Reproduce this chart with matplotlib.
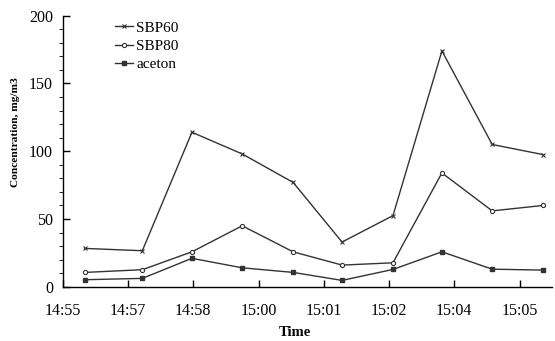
import matplotlib.pyplot as plt
from matplotlib.ticker import MultipleLocator

# sample positions on the time axis (in tick units) and tick labels
sample_pos = [0.34, 1.22, 1.98, 2.75, 3.53, 4.28, 5.06, 5.81, 6.58, 7.36]
tick_labels = ['14:55', '14:57', '14:58', '15:00', '15:01', '15:02', '15:04', '15:05']

sbp60 = [28.3, 26.6, 114, 98, 77, 33, 52.5, 174, 105, 97.5]
sbp80 = [10.6, 12.6, 25.8, 45, 25.8, 16, 17.7, 84, 56, 60]
aceton = [5.2, 6.2, 21, 14, 10.6, 4.7, 12.8, 25.8, 13, 12.3]

plt.rcParams['font.family'] = ['Liberation Serif', 'DejaVu Serif']

fig = plt.figure(figsize=(5.55, 3.41), dpi=100)
ax = fig.add_axes([0.113, 0.159, 0.882, 0.795])

col = '#333333'
ax.plot(sample_pos, sbp60, color=col, lw=1, marker='x', ms=3, mew=0.8, label='SBP60')
ax.plot(sample_pos, sbp80, color=col, lw=1, marker='o', ms=3, mfc='white', mew=0.8, label='SBP80')
ax.plot(sample_pos, aceton, color=col, lw=1, marker='s', ms=3, label='aceton')

ax.set_xlim(0, 7.5)
ax.set_ylim(0, 200)
ax.set_xticks(range(len(tick_labels)))
ax.set_xticklabels(tick_labels)
ax.yaxis.set_major_locator(MultipleLocator(50))
ax.yaxis.set_minor_locator(MultipleLocator(10))
ax.tick_params(axis='both', direction='in', labelsize=11.5, colors='black', width=1)
ax.tick_params(axis='y', which='major', length=5, pad=7)
ax.tick_params(axis='y', which='minor', length=3)
ax.tick_params(axis='x', length=5, pad=12)

for s in ['top', 'right']:
    ax.spines[s].set_visible(False)
for s in ['left', 'bottom']:
    ax.spines[s].set_color('black')
    ax.spines[s].set_linewidth(1)

ax.set_xlabel('Time', fontsize=10.5, fontweight='bold')
ax.set_ylabel('Concentration, mg/m3', fontsize=8.2, fontweight='bold')
ax.xaxis.set_label_coords(0.475, -0.145)
ax.yaxis.set_label_coords(-0.087, 0.57)

ax.legend(loc='upper left', bbox_to_anchor=(0.085, 1.02), frameon=False, fontsize=11,
          handlelength=1.2, handletextpad=0.2, labelspacing=0.3, borderpad=0.2)

fig.savefig('out.png', dpi=100)
